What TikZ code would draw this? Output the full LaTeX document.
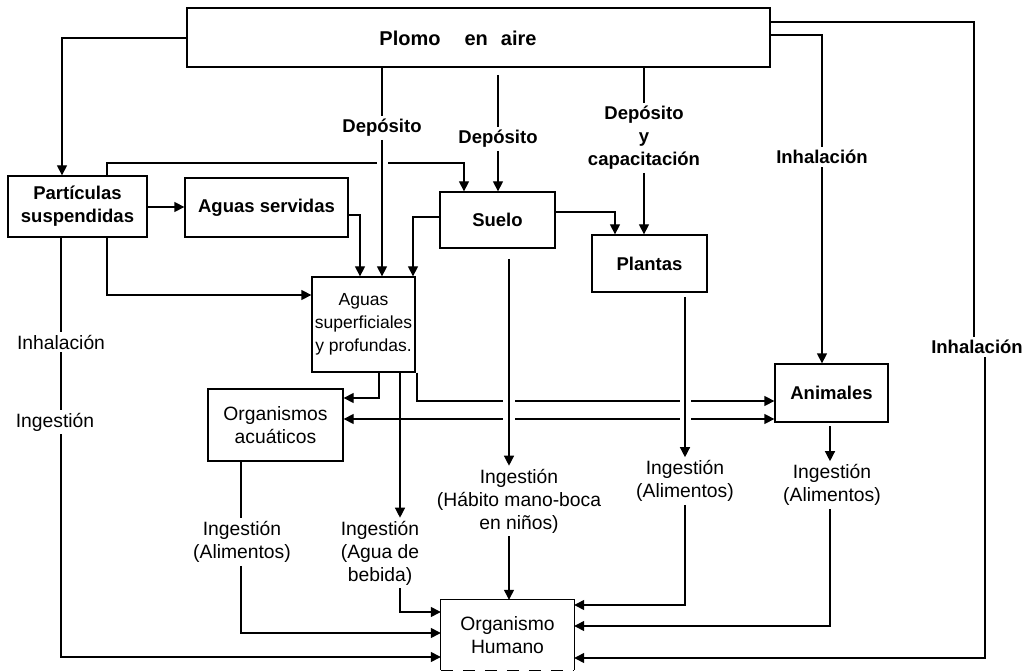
\documentclass[tikz,border=0pt]{standalone}
\usepackage{fontspec}
\setmainfont{Liberation Sans}
\usetikzlibrary{arrows.meta}
\newcommand\txr{\fontsize{19.3}{23}\selectfont}
\newcommand\txs{\fontsize{17.5}{23}\selectfont}
\newcommand\txb{\fontsize{18.5}{23}\selectfont\bfseries}
\newcommand\txt{\fontsize{20}{23}\selectfont\bfseries}
\begin{document}
\begin{tikzpicture}[x=1pt,y=-1pt,
  box/.style={draw,line width=1.3pt,inner sep=0pt,align=center},
  lbl/.style={inner sep=3pt,align=center},
  ln/.style={line width=1.3pt},
  arr/.style={line width=1.3pt,-{Triangle[width=10pt,length=10pt]}},
  rarr/.style={line width=1.3pt,{Triangle[width=10pt,length=10pt]}-},
]
\useasboundingbox (0,0) rectangle (1026,671);

% boxes
\node[box,minimum width=583pt,minimum height=59pt] (aire) at (478.5,37.5) {};
\node[lbl,font=\txt] (aireT) at (458,38) {Plomo\hspace{24pt}en\hspace{13pt}aire};
\node[box,font=\txb,minimum width=139pt,minimum height=61pt] (part) at (77.5,206.5) {Partículas\\suspendidas};
\node[box,font=\txb,minimum width=163pt,minimum height=59pt] (aserv) at (266.5,207.5) {Aguas servidas};
\node[box,font=\txb,minimum width=115pt,minimum height=56pt] (suelo) at (497.5,220) {Suelo};
\node[box,font=\txb,minimum width=115pt,minimum height=57pt] (plantas) at (649.5,263.5) {Plantas};
\node[box,font=\txs,minimum width=103pt,minimum height=95pt] (asup) at (363.5,324.5) {Aguas\\superficiales\\y profundas.};
\node[box,font=\txr,minimum width=135pt,minimum height=72pt] (oacu) at (275.5,425) {Organismos\\acuáticos};
\node[box,font=\txb,minimum width=113pt,minimum height=58pt] (anim) at (831.5,393) {Animales};
\node[inner sep=0pt,align=center,font=\txr,minimum width=133pt,minimum height=70pt] (humano) at (507.5,635) {Organismo\\Humano};
\draw[ln] (humano.south west) -- (humano.north west) -- (humano.north east) -- (humano.south east);
\draw[ln,dash pattern=on 12pt off 10pt] (humano.south west) -- (humano.south east);

% labels
\node[lbl,font=\txb] (dep1) at (382,128) {Depósito};
\node[lbl,font=\txb] (dep2) at (498,139) {Depósito};
\node[lbl,font=\txb] (dep3) at (644,138) {Depósito\\y\\capacitación};
\node[lbl,font=\txb] (inh1) at (822,157) {Inhalación};
\node[lbl,font=\txb] (inh2) at (977,347) {Inhalación};
\node[lbl,font=\txr] (inh3) at (61,342) {Inhalación};
\node[lbl,font=\txr] (ing0) at (55,422) {Ingestión};
\node[lbl,font=\txr] (ing1) at (380,553) {Ingestión\\(Agua de\\bebida)};
\node[lbl,font=\txr] (ing2) at (519,501) {Ingestión\\(Hábito mano-boca\\en niños)};
\node[lbl,font=\txr] (ing3) at (685,481) {Ingestión\\(Alimentos)};
\node[lbl,font=\txr] (ing4) at (832,485) {Ingestión\\(Alimentos)};
\node[lbl,font=\txr] (ing5) at (242,542) {Ingestión\\(Alimentos)};

% jump / free-end coordinates
\coordinate (d2top) at (498,75);
\coordinate (j1a) at (377,163);
\coordinate (j1b) at (388,163);
\coordinate (j2a) at (503,401);
\coordinate (j2b) at (515,401);
\coordinate (j2c) at (680,401);
\coordinate (j2d) at (691,401);
\coordinate (j3a) at (503,419);
\coordinate (j3b) at (515,419);
\coordinate (j3c) at (680,419);
\coordinate (j3d) at (691,419);
\coordinate (s1) at (509,259);
\coordinate (p1) at (685,297);
\coordinate (a1) at (830,426);

% from Plomo en aire
\draw[arr] (aire.west |- 0,38) -| (62,0 |- part.north);
\draw[ln] (382,0 |- aire.south) -- (dep1.north);
\draw[arr] (dep1.south) -- (382,0 |- asup.north);
\draw[ln] (d2top) -- (dep2.north);
\draw[arr] (dep2.south) -- (498,0 |- suelo.north);
\draw[ln] (644,0 |- aire.south) -- (dep3.north);
\draw[arr] (dep3.south) -- (644,0 |- plantas.north);
\draw[ln] (aire.east |- 0,35) -| (inh1.north);
\draw[arr] (inh1.south) -- (822,0 |- anim.north);
\draw[ln] (aire.east |- 0,22) -| (974,0 |- inh2.north);
\draw[arr] (985,0 |- inh2.south) |- (humano.east |- 0,658);

% Particulas
\draw[ln] (107,0 |- part.north) |- (j1a);
\draw[arr] (j1b) -| (464,0 |- suelo.north);
\draw[arr] (part.east |- 0,207) -- (aserv.west |- 0,207);
\draw[arr] (107,0 |- part.south) |- (asup.west |- 0,295);
\draw[ln] (61,0 |- part.south) -- (inh3.north);
\draw[ln] (inh3.south) -- (61,0 |- ing0.north);
\draw[arr] (61,0 |- ing0.south) |- (humano.west |- 0,657);

% Aguas servidas, Suelo
\draw[arr] (aserv.east |- 0,215) -| (360,0 |- asup.north);
\draw[arr] (suelo.west |- 0,217) -| (413,0 |- asup.north);
\draw[arr] (suelo.east |- 0,212) -| (615,0 |- plantas.north);
\draw[arr] (s1) -- (509,0 |- ing2.north);
\draw[arr] (509,0 |- ing2.south) -- (509,0 |- humano.north);

% Aguas superficiales
\draw[arr] (379,0 |- asup.south) |- (oacu.east |- 0,398);
\draw[arr] (400,0 |- asup.south) -- (400,0 |- ing1.north);
\draw[arr] (400,0 |- ing1.south) |- (humano.west |- 0,612);
\draw[ln] (417,0 |- asup.south) |- (j2a);
\draw[ln] (j2b) -- (j2c);
\draw[arr] (j2d) -- (anim.west |- 0,401);
\draw[rarr] (oacu.east |- 0,419) -- (j3a);
\draw[ln] (j3b) -- (j3c);
\draw[arr] (j3d) -- (anim.west |- 0,419);

% Plantas, Animales, Organismos acuaticos
\draw[arr] (p1) -- (685,0 |- ing3.north);
\draw[arr] (685,0 |- ing3.south) |- (humano.east |- 0,605);
\draw[arr] (a1) -- (830,0 |- ing4.north);
\draw[arr] (830,0 |- ing4.south) |- (humano.east |- 0,626);
\draw[ln] (241,0 |- oacu.south) -- (241,0 |- ing5.north);
\draw[arr] (241,0 |- ing5.south) |- (humano.west |- 0,633);
\end{tikzpicture}
\end{document}
